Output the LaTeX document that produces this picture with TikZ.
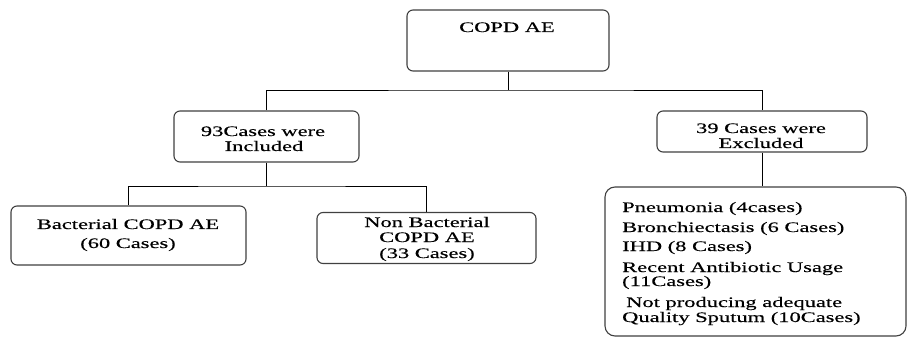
\documentclass[tikz,border=0pt]{standalone}
\usepackage{fontspec}
\setmainfont[FakeStretch=1.55,FakeBold=0.3]{Liberation Serif}
\tikzset{
  box/.style={draw=black!75, line width=1.1pt, rounded corners=6pt, inner sep=0pt, fill=white},
  lbl/.style={inner sep=0pt, font=\fontsize{14.5}{15}\selectfont, anchor=base, text=black},
  lst/.style={lbl, anchor=base west},
  link/.style={draw=black, line width=0.8pt}
}
\begin{document}
\begin{tikzpicture}[x=1pt,y=-1pt]
\useasboundingbox (0,0) rectangle (907,339);
% boxes
\node[box, minimum width=202pt, minimum height=61pt] (copd) at (508,40.5) {};
\node[box, minimum width=185pt, minimum height=51pt] (inc) at (266.5,136.5) {};
\node[box, minimum width=210pt, minimum height=41pt] (exc) at (762,131.5) {};
\node[box, minimum width=235pt, minimum height=59pt] (bac) at (128.5,235.5) {};
\node[box, minimum width=219pt, minimum height=51pt] (nonbac) at (426.5,238) {};
\node[box, rounded corners=10pt, minimum width=301pt, minimum height=149pt] (big) at (755.5,261.5) {};
% connectors
\coordinate (j1) at (508,90);
\coordinate (j2) at (266.5,186);
\draw[link] (copd.south) -- (j1);
\draw[link] (inc.north) |- (j1) -| (exc.north);
\draw[link] (inc.south) -- (j2);
\draw[link] (bac.north) |- (j2) -| (nonbac.north);
\draw[link] (exc.south) -- (exc.south |- big.north);
% texts
\node[lbl] (t0) at (507,32) {COPD AE};
\node[lbl] (t1a) at (263,136) {93Cases were};
\node[lbl] (t1b) at (264,151) {Included};
\node[lbl] (t2a) at (761,133) {39 Cases were};
\node[lbl] (t2b) at (761,148) {Excluded};
\node[lbl] (t3a) at (128,229) {Bacterial COPD AE};
\node[lbl] (t3b) at (128,248) {(60 Cases)};
\node[lbl] (t4a) at (427,227) {Non Bacterial};
\node[lbl] (t4b) at (427,242) {COPD AE};
\node[lbl] (t4c) at (427,258) {(33 Cases)};
\node[lst] (l1) at (622,212) {Pneumonia (4cases)};
\node[lst] (l2) at (622,232) {Bronchiectasis (6 Cases)};
\node[lst] (l3) at (622,251) {IHD (8 Cases)};
\node[lst] (l4) at (622,272) {Recent Antibiotic Usage};
\node[lst] (l5) at (622,286) {(11Cases)};
\node[lst] (l6) at (626,307) {Not producing adequate};
\node[lst] (l7) at (622,322) {Quality Sputum (10Cases)};
\end{tikzpicture}
\end{document}
